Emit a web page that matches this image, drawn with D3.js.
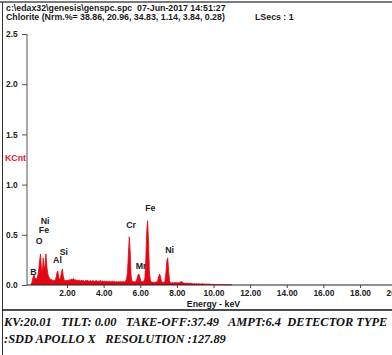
<!DOCTYPE html>
<html>
<head>
<meta charset="utf-8">
<script src="https://cdn.jsdelivr.net/npm/d3@7"></script>
<style>
  html, body { margin: 0; padding: 0; background: #fff; }
  svg { display: block; }
  text { white-space: pre; }
  .hdr { font-family: "Liberation Sans", Arial, sans-serif; font-weight: bold; font-size: 8.8px; fill: #1a1a1a; }
  .tick text { font-family: "Liberation Sans", Arial, sans-serif; font-weight: bold; font-size: 8.4px; fill: #222; }
  .peak { font-family: "Liberation Sans", Arial, sans-serif; font-weight: bold; font-size: 8.8px; fill: #222; }
  .foot { font-family: "Liberation Serif", "Times New Roman", serif; font-weight: bold; font-style: italic; font-size: 14px; fill: #111; }
</style>
</head>
<body>
<svg id="chart" width="392" height="355"></svg>
<script>
// Header lines
const headerLines = [
  "c:\\edax32\\genesis\\genspc.spc  07-Jun-2017 14:51:27",
  "Chlorite (Nrm.%= 38.86, 20.96, 34.83, 1.14, 3.84, 0.28)"
];
const liveTime = "LSecs : 1";

// Acquisition conditions printed under the spectrum
const footerLines = [
  "KV:20.01   TILT: 0.00   TAKE-OFF:37.49   AMPT:6.4  DETECTOR TYPE",
  ":SDD APOLLO X   RESOLUTION :127.89"
];

// Axis ticks
const yTicks = [0.0, 0.5, 1.0, 1.5, 2.0, 2.5];
const xTicks = [2, 4, 6, 8, 10, 12, 14, 16, 18, 20];

// Spectrum: counts (KCnt) per 0.05 keV channel, starting at 0.00 keV
const channelStart = 0.0;
const channelWidth = 0.05;
const counts = [
  // 0.00 - 0.95
  0.000, 0.010, 0.040, 0.080, 0.100, 0.060, 0.070, 0.050, 0.090, 0.140, 0.240, 0.310, 0.170, 0.130, 0.270, 0.150, 0.210, 0.310, 0.180, 0.110,
  // 1.00 - 1.95
  0.080, 0.070, 0.050, 0.060, 0.040, 0.050, 0.040, 0.050, 0.070, 0.120, 0.140, 0.070, 0.050, 0.080, 0.130, 0.160, 0.080, 0.050, 0.040, 0.050,
  // 2.00 - 2.95
  0.040, 0.050, 0.045, 0.055, 0.050, 0.060, 0.055, 0.065, 0.050, 0.055, 0.045, 0.050, 0.040, 0.050, 0.045, 0.040, 0.050, 0.040, 0.045, 0.035,
  // 3.00 - 3.95
  0.045, 0.040, 0.050, 0.040, 0.035, 0.045, 0.040, 0.035, 0.045, 0.040, 0.035, 0.040, 0.045, 0.035, 0.040, 0.035, 0.045, 0.040, 0.035, 0.040,
  // 4.00 - 4.95
  0.035, 0.040, 0.030, 0.040, 0.035, 0.030, 0.040, 0.035, 0.030, 0.035, 0.040, 0.030, 0.035, 0.030, 0.035, 0.030, 0.035, 0.030, 0.035, 0.030,
  // 5.00 - 5.95
  0.035, 0.030, 0.035, 0.030, 0.040, 0.060, 0.120, 0.300, 0.480, 0.330, 0.090, 0.040, 0.030, 0.035, 0.030, 0.035, 0.050, 0.080, 0.110, 0.100,
  // 6.00 - 6.95
  0.060, 0.035, 0.030, 0.035, 0.040, 0.060, 0.240, 0.520, 0.640, 0.440, 0.130, 0.050, 0.030, 0.030, 0.025, 0.030, 0.025, 0.030, 0.030, 0.040,
  // 7.00 - 7.95
  0.080, 0.110, 0.090, 0.040, 0.025, 0.030, 0.025, 0.040, 0.120, 0.240, 0.270, 0.140, 0.040, 0.025, 0.020, 0.025, 0.020, 0.025, 0.020, 0.025,
  // 8.00 - 8.95
  0.020, 0.025, 0.020, 0.025, 0.030, 0.035, 0.030, 0.020, 0.020, 0.015, 0.020, 0.015, 0.020, 0.015, 0.015, 0.020, 0.015, 0.015, 0.010, 0.015,
  // 9.00 - 9.95
  0.010, 0.015, 0.010, 0.010, 0.015, 0.010, 0.010, 0.010, 0.015, 0.010, 0.010, 0.008, 0.010, 0.008, 0.008, 0.010, 0.008, 0.006, 0.008, 0.006,
  // 10.00 - 10.95
  0.005, 0.006, 0.004, 0.005, 0.004, 0.005, 0.003, 0.004, 0.003, 0.004, 0.003, 0.003, 0.004, 0.003, 0.002, 0.003, 0.002, 0.003, 0.002, 0.002,
  // 11.00
  0.000
];

// Element identifications: energy (keV) and label height (KCnt)
const peakNames  = ["B",  "O",  "Fe", "Ni", "Al", "Si", "Cr", "Mn", "Fe", "Ni"];
const peakEnergy = [0.17, 0.48, 0.74, 0.80, 1.48, 1.83, 5.50, 6.10, 6.55, 7.60];
const peakLabelY = [0.13, 0.44, 0.55, 0.64, 0.25, 0.33, 0.60, 0.19, 0.77, 0.35];

const svg = d3.select("#chart");
const W = 392, H = 355;

const x = d3.scaleLinear().domain([0, 20]).range([30.4, 396.6]);
const y = d3.scaleLinear().domain([0, 2.5]).range([285, 34]);
const axisX0 = 27;

// Frame lines
svg.append("line").attr("x1", 0).attr("x2", W).attr("y1", 2).attr("y2", 2)
  .attr("stroke", "#7a7a7a").attr("stroke-width", 2);
svg.append("line").attr("x1", 2.5).attr("x2", 2.5).attr("y1", 2).attr("y2", H)
  .attr("stroke", "#333").attr("stroke-width", 1);
svg.append("line").attr("x1", 2).attr("x2", W).attr("y1", 310).attr("y2", 310)
  .attr("stroke", "#111").attr("stroke-width", 1.5);

// Header
svg.selectAll("text.hdrline").data(headerLines).join("text")
  .attr("class", "hdr hdrline")
  .attr("x", 6).attr("y", (d, i) => 10.5 + i * 9.5)
  .text(d => d);
svg.append("text").attr("class", "hdr").attr("x", 255).attr("y", 20).text(liveTime);

// Peak labels (drawn beneath the spectrum)
svg.selectAll("text.peak").data(peakNames).join("text")
  .attr("class", "peak")
  .attr("text-anchor", "middle")
  .attr("x", (d, i) => x(peakEnergy[i]))
  .attr("y", (d, i) => y(peakLabelY[i]) + 3)
  .text(d => d);

// Spectrum
const spec = counts.map((c, i) => ({ e: channelStart + i * channelWidth, c }));
const area = d3.area().x(d => x(d.e)).y0(y(0)).y1(d => y(d.c));
const line = d3.line().x(d => x(d.e)).y(d => y(d.c));
svg.append("path").datum(spec).attr("d", area).attr("fill", "#e30613");
svg.append("path").datum(spec).attr("d", line).attr("fill", "none")
  .attr("stroke", "#e30613").attr("stroke-width", 0.8);

// Y axis
const gy = svg.append("g").attr("transform", `translate(${axisX0},0)`)
  .call(d3.axisLeft(y).tickValues(yTicks).tickFormat(d3.format(".1f"))
    .tickSize(5).tickPadding(3).tickSizeOuter(0));
gy.select(".domain").attr("stroke", "#555").attr("d", `M0,${y(2.5)}V${y(0)}`);
gy.selectAll(".tick line").attr("stroke", "#555");
gy.selectAll(".tick text").attr("text-anchor", "start").attr("x", 6 - axisX0);

// X axis
const gx = svg.append("g").attr("transform", `translate(0,${y(0)})`)
  .call(d3.axisBottom(x).tickValues(xTicks).tickFormat(d3.format(".2f"))
    .tickSize(3).tickPadding(2).tickSizeOuter(0));
gx.select(".domain").attr("stroke", "#222").attr("d", `M${axisX0},0H${W}`);
gx.selectAll(".tick line").attr("stroke", "#444");

// Axis titles
svg.append("text").attr("class", "hdr")
  .attr("x", x(10)).attr("y", 306.5).attr("text-anchor", "middle")
  .text("Energy - keV");
svg.append("text").attr("class", "hdr")
  .attr("x", 5).attr("y", 161).style("fill", "#e0202a")
  .text("KCnt");

// Footer: size the type so the first line spans the box width
const foot = svg.selectAll("text.foot").data(footerLines).join("text")
  .attr("class", "foot")
  .attr("x", 4).attr("y", (d, i) => 326 + i * 17)
  .text(d => d);
const firstLen = foot.nodes()[0].getComputedTextLength();
const footSize = 14 * 384 / firstLen;
foot.style("font-size", footSize + "px");
</script>
</body>
</html>
